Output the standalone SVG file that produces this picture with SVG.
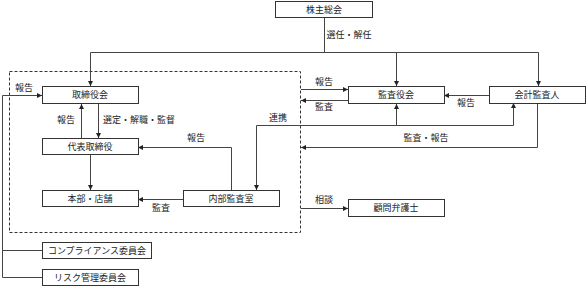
<svg xmlns="http://www.w3.org/2000/svg" width="586" height="286" viewBox="0 0 586 286">
<style>
.box{fill:#fff;stroke:#333;stroke-width:1}
.t{font-family:"Noto Sans CJK JP","Noto Sans",sans-serif;font-size:9px;fill:#222;text-anchor:middle}
.l{font-family:"Noto Sans CJK JP","Noto Sans",sans-serif;font-size:9px;fill:#222}
.c{fill:none;stroke:#444;stroke-width:1}
.a{marker-end:url(#ah)}
</style>
<defs>
<marker id="ah" viewBox="0 0 10 10" refX="10" refY="5" markerWidth="5" markerHeight="5" orient="auto" markerUnits="userSpaceOnUse">
<path d="M0,0 L10,5 L0,10 Z" fill="#222"/>
</marker>
</defs>
<rect x="9.5" y="71.5" width="291" height="161" fill="none" stroke="#333" stroke-width="1" stroke-dasharray="3,2"/>
<g id="connectors">
<path class="c" d="M324.5,18 V52.5 M90.5,52.5 H538.5"/>
<path class="c a" d="M90.5,52.5 V86"/>
<path class="c a" d="M396.5,52.5 V86"/>
<path class="c a" d="M538.5,52.5 V86"/>
<path class="c a" d="M2.5,95.5 H42"/>
<path class="c" d="M2.5,95.5 V277.5 H42 M2.5,250.5 H42"/>
<path class="c a" d="M81.5,138 V104"/>
<path class="c a" d="M98.5,104 V138"/>
<path class="c a" d="M90.5,155 V190"/>
<path class="c a" d="M231.5,190 V147.5 H138"/>
<path class="c a" d="M183,199.5 H138"/>
<path class="c a" d="M301,89.5 H348"/>
<path class="c a" d="M348,100.5 H301"/>
<path class="c a" d="M489,95.5 H444"/>
<path class="c a" d="M513.5,125.5 H256.5 V190"/>
<path class="c a" d="M513.5,125.5 V103"/>
<path class="c a" d="M396.5,125.5 V104"/>
<path class="c a" d="M537.5,103 V147.5 H301"/>
<path class="c a" d="M301,208.5 H348"/>
<text class="t" x="349" y="38">選任・解任</text>
<text class="t" x="24" y="91">報告</text>
<text class="t" x="66" y="123">報告</text>
<text class="l" x="103" y="123">選定・解職・監督</text>
<text class="t" x="278" y="121">連携</text>
<text class="t" x="196" y="141">報告</text>
<text class="t" x="161" y="211">監査</text>
<text class="t" x="324" y="85">報告</text>
<text class="t" x="324" y="110">監査</text>
<text class="t" x="466" y="106">報告</text>
<text class="t" x="426" y="141">監査・報告</text>
<text class="t" x="324" y="203">相談</text>
</g>
<g id="shareholders"><rect class="box" x="275.5" y="1.5" width="97" height="16"/><text class="t" x="324" y="13">株主総会</text></g>
<g id="board"><rect class="box" x="42.5" y="86.5" width="96" height="17"/><text class="t" x="90" y="98">取締役会</text></g>
<g id="auditboard"><rect class="box" x="348.5" y="86.5" width="96" height="17"/><text class="t" x="396" y="98">監査役会</text></g>
<g id="accountant"><rect class="box" x="489.5" y="86.5" width="96" height="17"/><text class="t" x="537" y="98">会計監査人</text></g>
<g id="ceo"><rect class="box" x="42.5" y="138.5" width="96" height="16"/><text class="t" x="90" y="150">代表取締役</text></g>
<g id="branches"><rect class="box" x="42.5" y="190.5" width="96" height="16"/><text class="t" x="90" y="202">本部・店舗</text></g>
<g id="internalaudit"><rect class="box" x="183.5" y="190.5" width="96" height="16"/><text class="t" x="231" y="202">内部監査室</text></g>
<g id="lawyer"><rect class="box" x="348.5" y="199.5" width="96" height="17"/><text class="t" x="396" y="211">顧問弁護士</text></g>
<g id="compliance"><rect class="box" x="42.5" y="242.5" width="109" height="16"/><text class="t" x="97" y="254">コンプライアンス委員会</text></g>
<g id="risk"><rect class="box" x="42.5" y="269.5" width="96" height="16"/><text class="t" x="90" y="281">リスク管理委員会</text></g>
</svg>
